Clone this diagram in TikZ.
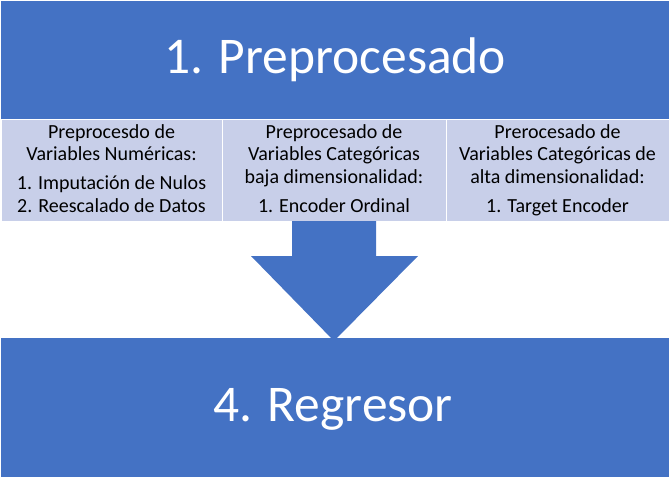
\documentclass[tikz,border=0pt]{standalone}
\usepackage{fontspec}
\setmainfont{Carlito}
\usepackage{xcolor}
\definecolor{bandblue}{HTML}{4472C4}
\definecolor{celllight}{HTML}{C8CFE9}
\tikzset{
  bigtitle/.style = {font = \fontsize{51.5}{62}\selectfont, text = white, anchor = base, inner sep = 0pt},
  celltext/.style = {font = \fontsize{20}{22.5}\selectfont, text = black, anchor = base, inner sep = 0pt},
  cellbox/.style  = {fill = celllight, draw = white, line width = 0.6pt}
}

\begin{document}
\begin{tikzpicture}[x = 1pt, y = -1pt]
    \useasboundingbox (0, 0) rectangle (671, 477);

    % draw top and bottom banners
    \fill[bandblue] (1, 1) rectangle (669, 119);
    \fill[bandblue] (1, 338) rectangle (669, 477);

    \node[bigtitle] (pre) at (335, 73) {1. Preprocesado};
    \node[bigtitle] (reg) at (333, 421) {4. Regresor};


    % draw the three light cells
    \filldraw[cellbox] (1, 119) rectangle (222, 221);
    \filldraw[cellbox] (222, 119) rectangle (446, 221);
    \filldraw[cellbox] (446, 119) rectangle (669, 221);


    % draw numeric cell text
    \node[celltext] (num1) at (111.5, 138.3) {Preprocesdo de};
    \node[celltext] (num2) at (111.5, 160.8) {Variables Numéricas:};
    \node[celltext] (num3) at (111.5, 189.5) {1. Imputación de Nulos};
    \node[celltext] (num4) at (111.5, 212.0) {2. Reescalado de Datos};


    % draw low dimensional categorical cell text
    \node[celltext] (low1) at (334, 138.3) {Preprocesado de};
    \node[celltext] (low2) at (334, 160.8) {Variables Categóricas};
    \node[celltext] (low3) at (334, 183.3) {baja dimensionalidad:};
    \node[celltext] (low4) at (334, 212.0) {1. Encoder Ordinal};


    % draw high dimensional categorical cell text
    \node[celltext] (high1) at (557.5, 138.3) {Prerocesado de};
    \node[celltext] (high2) at (557.5, 160.8) {Variables Categóricas de};
    \node[celltext] (high3) at (557.5, 183.3) {alta dimensionalidad:};
    \node[celltext] (high4) at (557.5, 212.0) {1. Target Encoder};


    % draw down arrow
    \fill[bandblue] (292, 221) -- (376, 221) -- (376, 256) -- (418, 256)
        -- (334, 341) -- (251, 256) -- (292, 256) -- cycle;

\end{tikzpicture}
\end{document}
